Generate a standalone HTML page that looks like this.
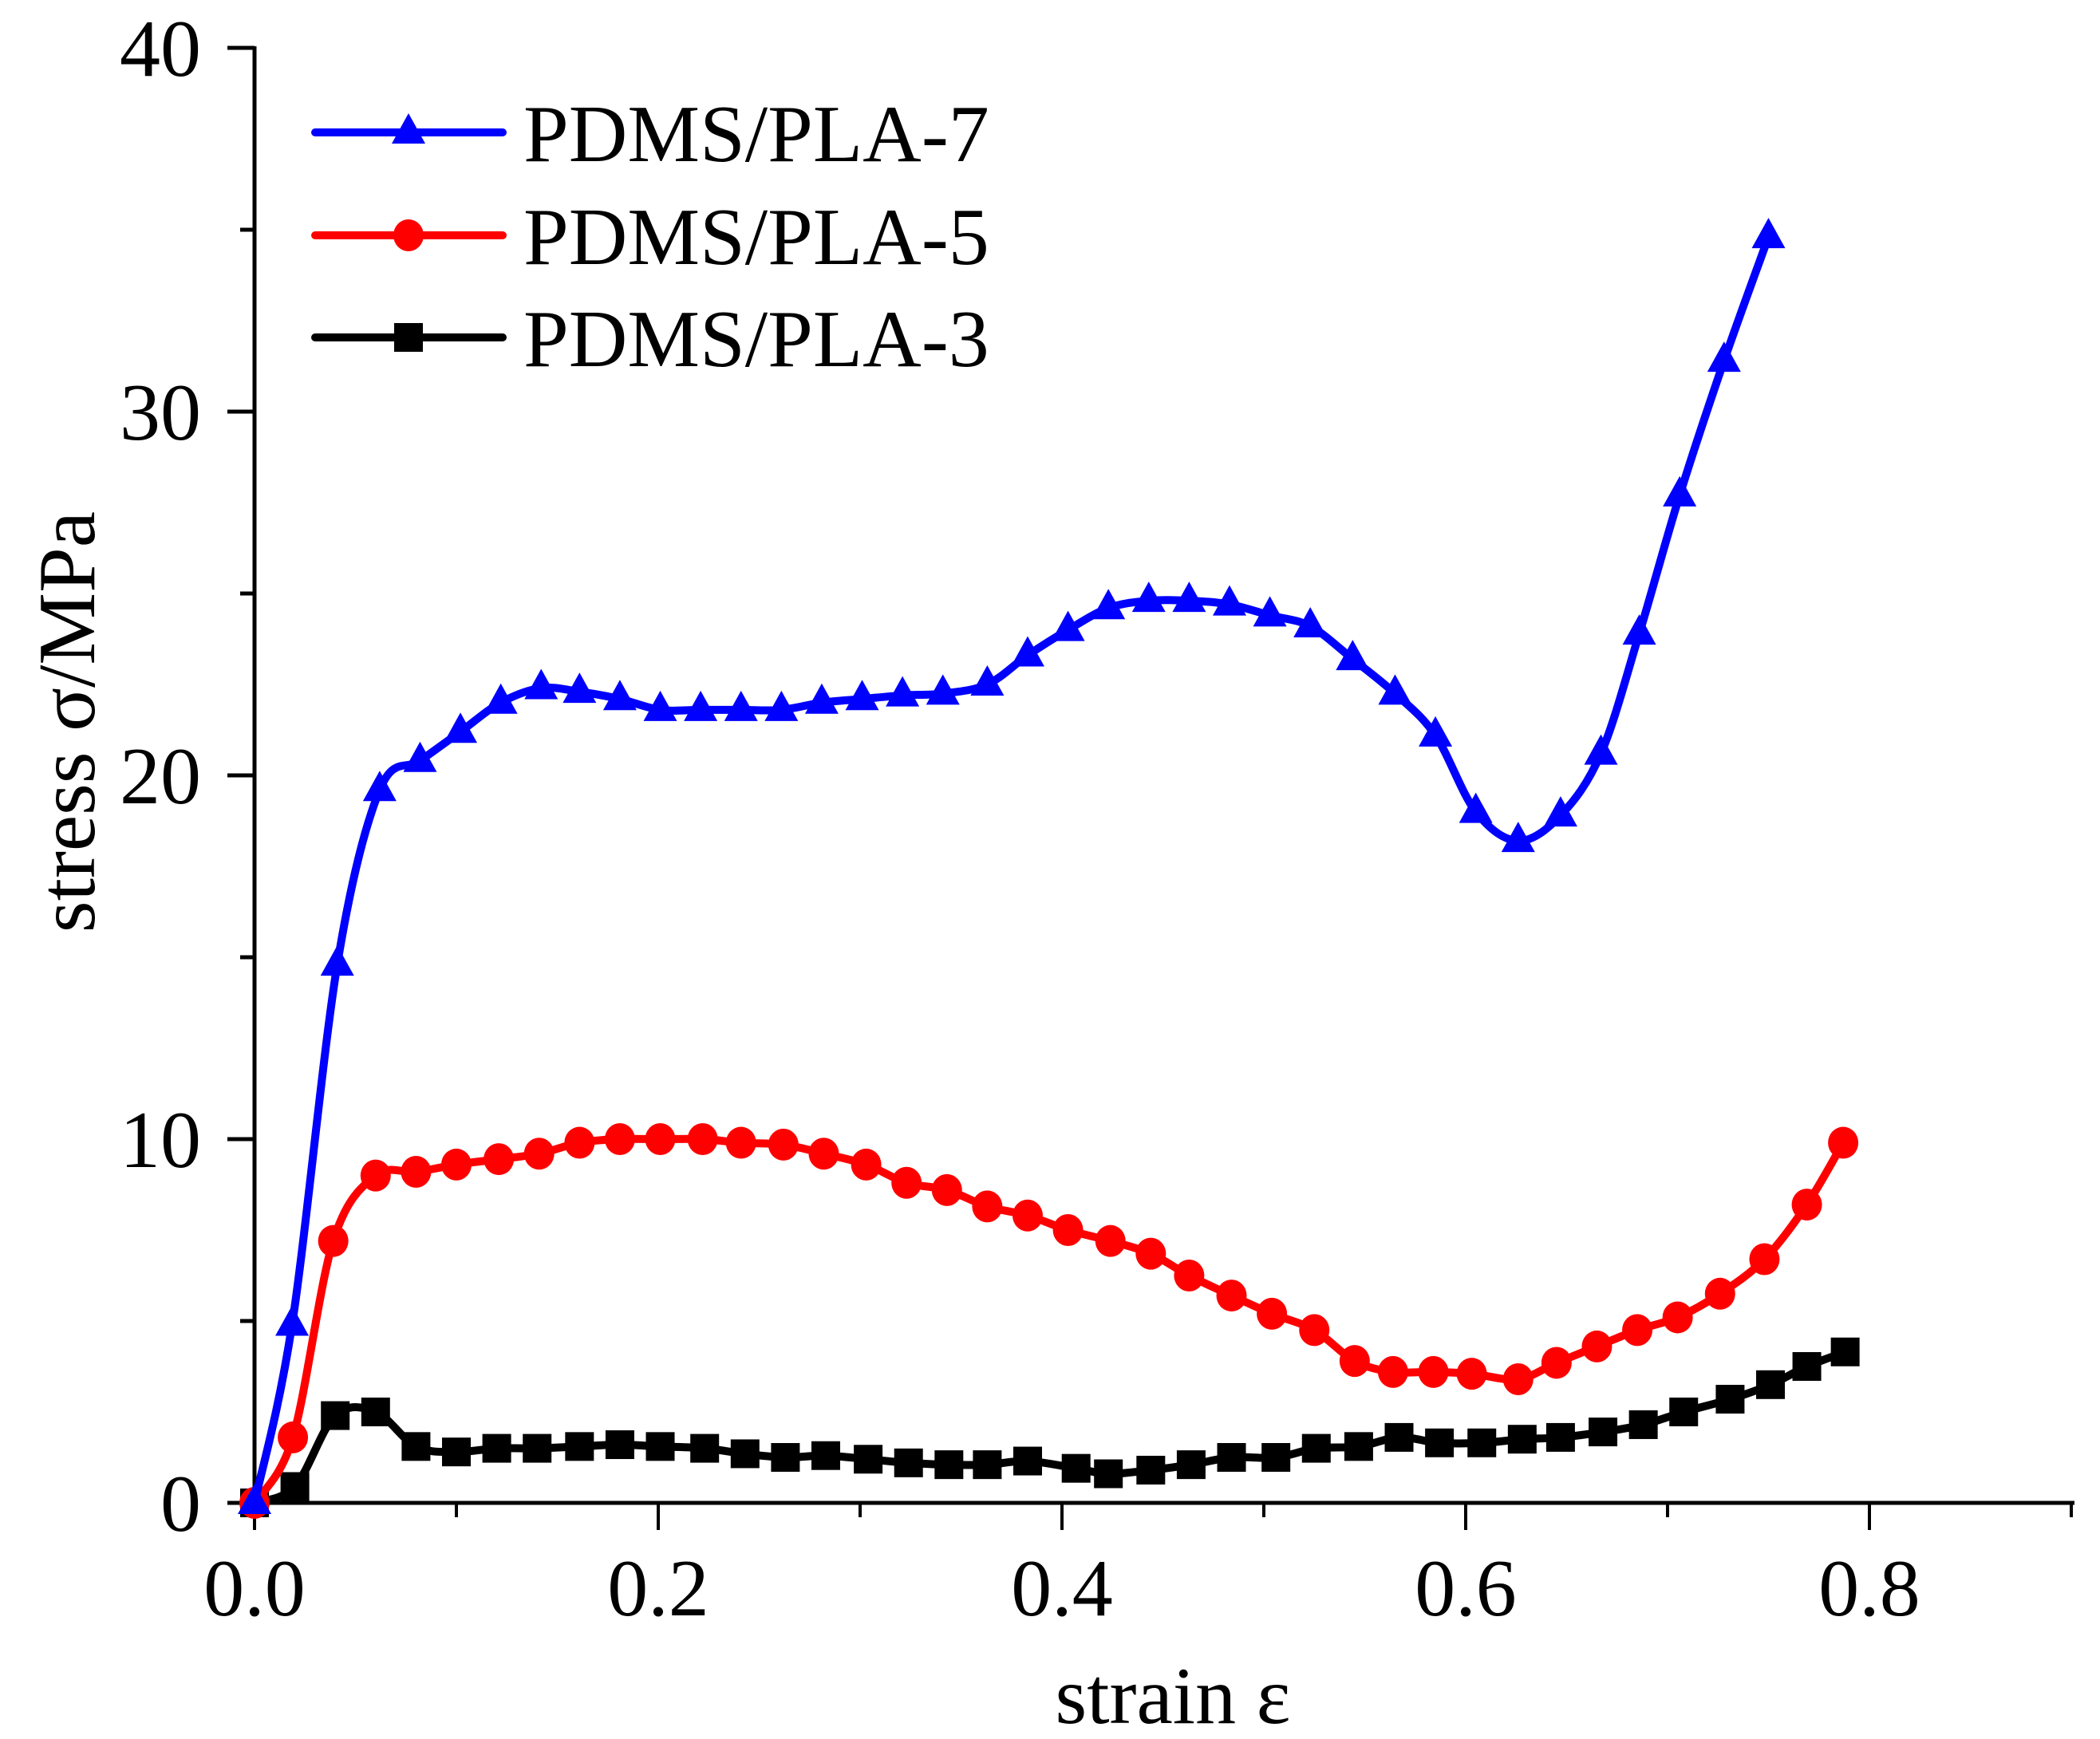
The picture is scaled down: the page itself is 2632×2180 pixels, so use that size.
<!DOCTYPE html>
<html><head><meta charset="utf-8"><style>
html,body{margin:0;padding:0;background:#fff;}
svg{display:block;font-family:"Liberation Serif",serif;}
</style></head><body>
<svg id="chart" width="2632" height="2180" viewBox="0 0 2632 2180" xmlns="http://www.w3.org/2000/svg">
<g id="axes"></g>
<g id="series"></g>
<g id="legend"></g>
<text x="1470" y="2160" font-size="102" text-anchor="middle">strain ε</text>
<text transform="translate(118,905) rotate(-90)" font-size="102" text-anchor="middle">stress σ/MPa</text>
</svg>
<script>
const xTicks = [0.0, 0.2, 0.4, 0.6, 0.8];
const xTickLabels = ["0.0", "0.2", "0.4", "0.6", "0.8"];
const yTicks = [0, 10, 20, 30, 40];
const yTickLabels = ["0", "10", "20", "30", "40"];
const seriesNames = ["PDMS/PLA-7", "PDMS/PLA-5", "PDMS/PLA-3"];

const x7 = [0,.0186,.041,.062,.082,.102,.122,.142,.161,.181,.201,.221,.241,.261,.281,.301,.321,.341,.363,.383,.403,.423,.443,.463,.483,.503,.523,.544,.565,.585,.605,.626,.647,.667,.686,.706,.728,.75];
const y7 = [0,4.9,14.8,19.6,20.4,21.2,22.0,22.4,22.3,22.1,21.8,21.8,21.8,21.8,22.0,22.1,22.2,22.25,22.5,23.3,24.0,24.6,24.8,24.8,24.7,24.4,24.1,23.2,22.25,21.1,19.0,18.2,18.9,20.6,23.9,27.7,31.4,34.8];
const x5 = [0,.019,.039,.06,.08,.1,.121,.141,.161,.181,.201,.222,.241,.262,.282,.303,.323,.343,.363,.383,.403,.424,.444,.463,.484,.504,.525,.545,.564,.584,.603,.626,.645,.665,.685,.705,.726,.748,.769,.787];
const y5 = [0,1.8,7.2,9.0,9.1,9.3,9.45,9.6,9.9,10.0,10.0,10.0,9.9,9.85,9.6,9.3,8.8,8.6,8.15,7.9,7.5,7.2,6.85,6.25,5.7,5.2,4.75,3.9,3.6,3.6,3.55,3.4,3.85,4.3,4.75,5.1,5.75,6.7,8.2,9.9];
const x3 = [0,.02,.04,.06,.08,.1,.12,.14,.161,.181,.201,.223,.243,.263,.283,.304,.324,.344,.363,.383,.407,.423,.444,.464,.484,.506,.526,.547,.567,.587,.608,.628,.647,.668,.688,.708,.731,.751,.769,.788];
const y3 = [0,.45,2.4,2.5,1.55,1.4,1.5,1.5,1.55,1.6,1.55,1.5,1.35,1.25,1.3,1.2,1.1,1.05,1.05,1.15,.95,.8,.9,1.05,1.25,1.25,1.5,1.55,1.8,1.65,1.65,1.75,1.8,1.95,2.15,2.5,2.85,3.25,3.75,4.15];

const NS = "http://www.w3.org/2000/svg";
const X0 = 319, X08 = 2343, XEND = 2600, Y0 = 1884, Y40 = 60;
function sx(v){ return X0 + v*(X08-X0)/0.8; }
function sy(v){ return Y0 - v*(Y0-Y40)/40; }
function mk(tag, attrs, parent){ const e=document.createElementNS(NS,tag); for(const k in attrs) e.setAttribute(k,attrs[k]); parent.appendChild(e); return e; }

const axes = document.getElementById('axes');
let a = mk('line',{x1:X0,y1:Y0,x2:XEND,y2:Y0,stroke:'#000','stroke-width':5},axes);


a = mk('line',{x1:X0,y1:Y0+2,x2:X0,y2:Y40-2,stroke:'#000','stroke-width':5},axes);


for(let i=0;i<=9;i++){
  const v=i*0.1, major=(i%2===0);
  const t=mk('line',{x1:sx(v),y1:Y0,x2:sx(v),y2:Y0+(major?34:18),stroke:'#000','stroke-width':4},axes);
  
  
}
xTicks.forEach((v,i)=>{
  const t=mk('text',{x:sx(v),y:2025,'font-size':102,'text-anchor':'middle'},axes);
  t.textContent=xTickLabels[i];
  
  
});
for(let i=0;i<=8;i++){
  const v=i*5, major=(i%2===0);
  const t=mk('line',{x1:X0,y1:sy(v),x2:X0-(major?34:18),y2:sy(v),stroke:'#000','stroke-width':5},axes);
  
  
}
yTicks.forEach((v,i)=>{
  const t=mk('text',{x:252,y:sy(v)+35,'font-size':102,'text-anchor':'end'},axes);
  t.textContent=yTickLabels[i];
  
  
});

function smoothPath(pts){
  let d='M'+pts[0][0]+','+pts[0][1];
  for(let i=0;i<pts.length-1;i++){
    const p0=pts[Math.max(i-1,0)],p1=pts[i],p2=pts[i+1],p3=pts[Math.min(i+2,pts.length-1)];
    const c1=[p1[0]+(p2[0]-p0[0])/6,p1[1]+(p2[1]-p0[1])/6];
    const c2=[p2[0]-(p3[0]-p1[0])/6,p2[1]-(p3[1]-p1[1])/6];
    d+=' C'+c1[0]+','+c1[1]+' '+c2[0]+','+c2[1]+' '+p2[0]+','+p2[1];
  }
  return d;
}
function marker(g,type,cx,cy,color){
  let m;
  if(type==='tri') m=mk('polygon',{points:`${cx},${cy-24} ${cx-21},${cy+14} ${cx+21},${cy+14}`,fill:color},g);
  else if(type==='circ') m=mk('ellipse',{cx:cx,cy:cy,rx:19,ry:20,fill:color},g);
  else m=mk('rect',{x:cx-18,y:cy-18,width:36,height:36,fill:color},g);
  return m;
}
const series = document.getElementById('series');
const defs=[[x7,y7,'#0000ff','tri','pdms-pla-7'],[x5,y5,'#ff0000','circ','pdms-pla-5'],[x3,y3,'#000','sq','pdms-pla-3']];
defs.slice().reverse().forEach(([xs,ys,col,type,name])=>{
  const g=mk('g',{},series);
  
  
  const pts=xs.map((x,i)=>[sx(x),sy(ys[i])]);
  const p=mk('path',{d:smoothPath(pts),fill:'none',stroke:col,'stroke-width':10,'stroke-linejoin':'round'},g);
  
  
  pts.forEach(pt=>{
    const m=marker(g,type,pt[0],pt[1],col);
    
    
  });
});

const legend=document.getElementById('legend');
const legY=[166,295,423];
defs.forEach(([xs,ys,col,type,name],i)=>{
  const g=mk('g',{},legend);
  
  
  const l=mk('line',{x1:395,y1:legY[i],x2:630,y2:legY[i],stroke:col,'stroke-width':10,'stroke-linecap':'round'},g);
  
  
  const m=marker(g,type,512,legY[i],col);
  
  
  const t=mk('text',{x:656,y:legY[i]+36,'font-size':102},g);
  t.textContent=seriesNames[i];
  
  
});
</script>
</body></html>
